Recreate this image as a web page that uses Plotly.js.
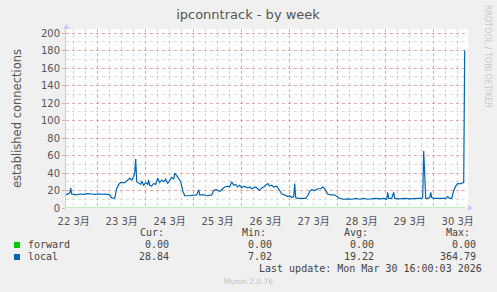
<!DOCTYPE html>
<html>
<head>
<meta charset="utf-8">
<script src="https://cdn.plot.ly/plotly-3.0.1.min.js"></script>
<style>
html,body{margin:0;padding:0;background:#f0f0f0;}
#chart{width:497px;height:292px;}
</style>
</head>
<body>
<div id="chart"></div>
<script>
// Hours since 2026-03-22 08:00 (start of the weekly window)
const localHours = [0,1,2,2.5,3,5,7,9,11,13,15,17,19,21,22,23,24.5,25.5,26.5,27.5,29.5,31,32,33,34,34.5,35,35.5,36.5,37.5,38,39,40,41,41.5,42,43,44,45,46,47,48,49,50,51,52,53,54,54.5,55.5,56.5,57.5,58.5,59.5,61.5,63.5,65.5,66.5,67,69,71,73,74,75,76,77,78,79.5,81,82,83,84,85,86,87,88,89,90,91,92,93,94,95,96,97,98,99,100,101,102,103,104,105.5,107,108,109.5,111,112,113,114,114.5,115,116,118,120,121,122,123,124.5,126,127.5,128.5,129.5,131,132.5,134.5,135.5,137,139,141,143,145,147,149,151,153,155,157,159,160.5,161,161.5,163,164,164.5,166,168,170,172,174,176,178,178.5,179,179.5,180,181,182,182.5,183,184,186,188,190,191,192,193,194,195,196,197,198,198.5,199,199.5];
const localValues = [15,16,17,23,16,15,16,15.5,16.5,16,15.5,16,16,15.5,15,11.5,11,22,27,29,29,32,34,32,36,40,56,30,28,27,31,26,29,27,32,26,25,28,27,34,29,32,30,33,28,32,35,33,40,37,33,30,20,14,14,14.5,15,21,15,15,14,15,20,21,20.5,19,21,24,25,24,30,26,27,24,26,23,25,24,23,24,22,23,24,22,20,23,24,26,28,25,26,24,25,20,16,15,13,14,12,13,28,12,11,11,11,14,19,21,20,22,22,24,22,16,15,15,13,11,10,10.5,10,11,10,11,10,10.5,11,10.5,11,10,18,11,11,18,11,10.5,11,11,10.5,11,11,11,12,65,30,11,11,12,18,12,11,11,11,11,13,11,11,20,25,28,27.5,28.5,29,29,180];
const forwardHours = [0, 200];
const forwardValues = [0, 0];

const midnightHours = [16,40,64,88,112,136,160,184];
const labelHours = [4,28,52,76,100,124,148,172,196];
const dayLabels = ['22 3月','23 3月','24 3月','25 3月','26 3月','27 3月','28 3月','29 3月','30 3月'];
const yTicks = [0,20,40,60,80,100,120,140,160,180,200];

const seriesNames = ['forward','local'];
const curVals = ['0.00','28.84'];
const minVals = ['0.00','7.02'];
const avgVals = ['0.00','19.22'];
const maxVals = ['0.00','364.79'];
const lastUpdate = 'Last update: Mon Mar 30 16:00:03 2026';

const GREEN = '#00cc00', BLUE = '#0066b3';
const L = 66, R = 468, T = 29, B = 208, W = 497, H = 292;
const px = x => (x - L) / (R - L);
const py = y => (B - y) / (B - T);

const mono = 'DejaVu Sans Mono, monospace';
const sans = 'DejaVu Sans, Noto Sans CJK JP, sans-serif';
const txt = '#444';
const RED_GRID = 'rgba(232,150,150,0.7)';
const GRAY_GRID = '#dadada';

const annotations = [];
function ann(text, x, y, xanchor, size, color, extra) {
  annotations.push(Object.assign({text: text, xref: 'paper', yref: 'paper', x: px(x), y: py(y),
    xanchor: xanchor, yanchor: 'middle', showarrow: false,
    font: {family: mono, size: size, color: color}}, extra || {}));
}
ann('Cur:', 166, 232, 'right', 10, txt);
ann('Min:', 268, 232, 'right', 10, txt);
ann('Avg:', 370, 232, 'right', 10, txt);
ann('Max:', 472, 232, 'right', 10, txt);
const rowsY = [244.5, 256.5];
seriesNames.forEach((n, i) => {
  ann(n, 26, rowsY[i], 'left', 10, txt);
  ann(curVals[i], 171, rowsY[i], 'right', 10, txt);
  ann(minVals[i], 274, rowsY[i], 'right', 10, txt);
  ann(avgVals[i], 376, rowsY[i], 'right', 10, txt);
  ann(maxVals[i], 478, rowsY[i], 'right', 10, txt);
});
ann(lastUpdate, 484, 268.5, 'right', 10, txt);
ann('Munin 2.0.76', 248, 281, 'center', 7.5, '#c0c0c0', {font: {family: sans, size: 7.5, color: '#c0c0c0'}});
ann('RRDTOOL / TOBI OETIKER', 488, 56, 'center', 8, '#c8c8c8', {textangle: 90, font: {family: sans, size: 8, color: '#c8c8c8'}});

const shapes = [
  {type: 'rect', xref: 'paper', yref: 'paper', x0: px(14), x1: px(20), y0: py(248), y1: py(242), fillcolor: GREEN, line: {width: 0}},
  {type: 'rect', xref: 'paper', yref: 'paper', x0: px(14), x1: px(20), y0: py(260), y1: py(254), fillcolor: BLUE, line: {width: 0}},
  {type: 'path', xref: 'paper', yref: 'paper', path: `M ${px(468)} ${py(205)} L ${px(473)} ${py(208)} L ${px(468)} ${py(211)} Z`, fillcolor: '#c8c8f8', line: {width: 0}},
  {type: 'path', xref: 'paper', yref: 'paper', path: `M ${px(63)} ${py(29)} L ${px(66.5)} ${py(24)} L ${px(70)} ${py(29)} Z`, fillcolor: '#c8c8f8', line: {width: 0}}
];

const data = [
  {x: forwardHours, y: forwardValues, type: 'scatter', mode: 'lines', line: {color: GREEN, width: 1.2}, opacity: 0.55, hoverinfo: 'skip'},
  {x: localHours, y: localValues, type: 'scatter', mode: 'lines', line: {color: BLUE, width: 1.2}, hoverinfo: 'skip'},
  {x: labelHours, y: labelHours.map(() => null), xaxis: 'x2', type: 'scatter', mode: 'lines', hoverinfo: 'skip'}
];

const xr = [(L - 65.7) / 2, (R - 65.7) / 2];
const layout = {
  width: W, height: H,
  paper_bgcolor: '#f0f0f0', plot_bgcolor: '#ffffff',
  margin: {l: L, r: W - R, t: T, b: H - B},
  showlegend: false,
  title: {text: 'ipconntrack - by week', font: {family: sans, size: 13, color: '#555'}, x: 248 / W, xanchor: 'center', y: 1 - 14 / H, yanchor: 'middle'},
  xaxis: {
    range: xr, tickvals: midnightHours, showticklabels: false, ticks: '',
    showgrid: true, gridcolor: RED_GRID, griddash: 'dot', gridwidth: 1,
    minor: {tick0: 4, dtick: 6, showgrid: true, gridcolor: GRAY_GRID, griddash: 'dot', gridwidth: 1},
    zeroline: false, showline: false, fixedrange: true
  },
  xaxis2: {
    overlaying: 'x', anchor: 'y', side: 'bottom', range: xr,
    tickvals: labelHours, ticktext: dayLabels, showgrid: false, zeroline: false,
    ticks: 'outside', ticklen: 4, tickcolor: 'rgba(0,0,0,0)',
    tickfont: {family: sans, size: 10, color: '#555'}
  },
  yaxis: {
    range: [0, (B - T) / 0.875], tickvals: yTicks, ticks: 'outside', ticklen: 3, tickcolor: '#bbbbbb',
    tickfont: {family: sans, size: 10, color: '#555'},
    showgrid: true, gridcolor: RED_GRID, griddash: 'dot', gridwidth: 1,
    minor: {dtick: 10, showgrid: true, gridcolor: GRAY_GRID, griddash: 'dot', gridwidth: 1},
    zeroline: false, showline: true, linecolor: '#c8c8f0', linewidth: 1,
    title: {text: 'established connections', font: {family: sans, size: 11.5, color: '#555'}, standoff: 16}
  },
  annotations: annotations,
  shapes: shapes
};
Plotly.newPlot('chart', data, layout, {staticPlot: true, displayModeBar: false});
</script>
</body>
</html>
